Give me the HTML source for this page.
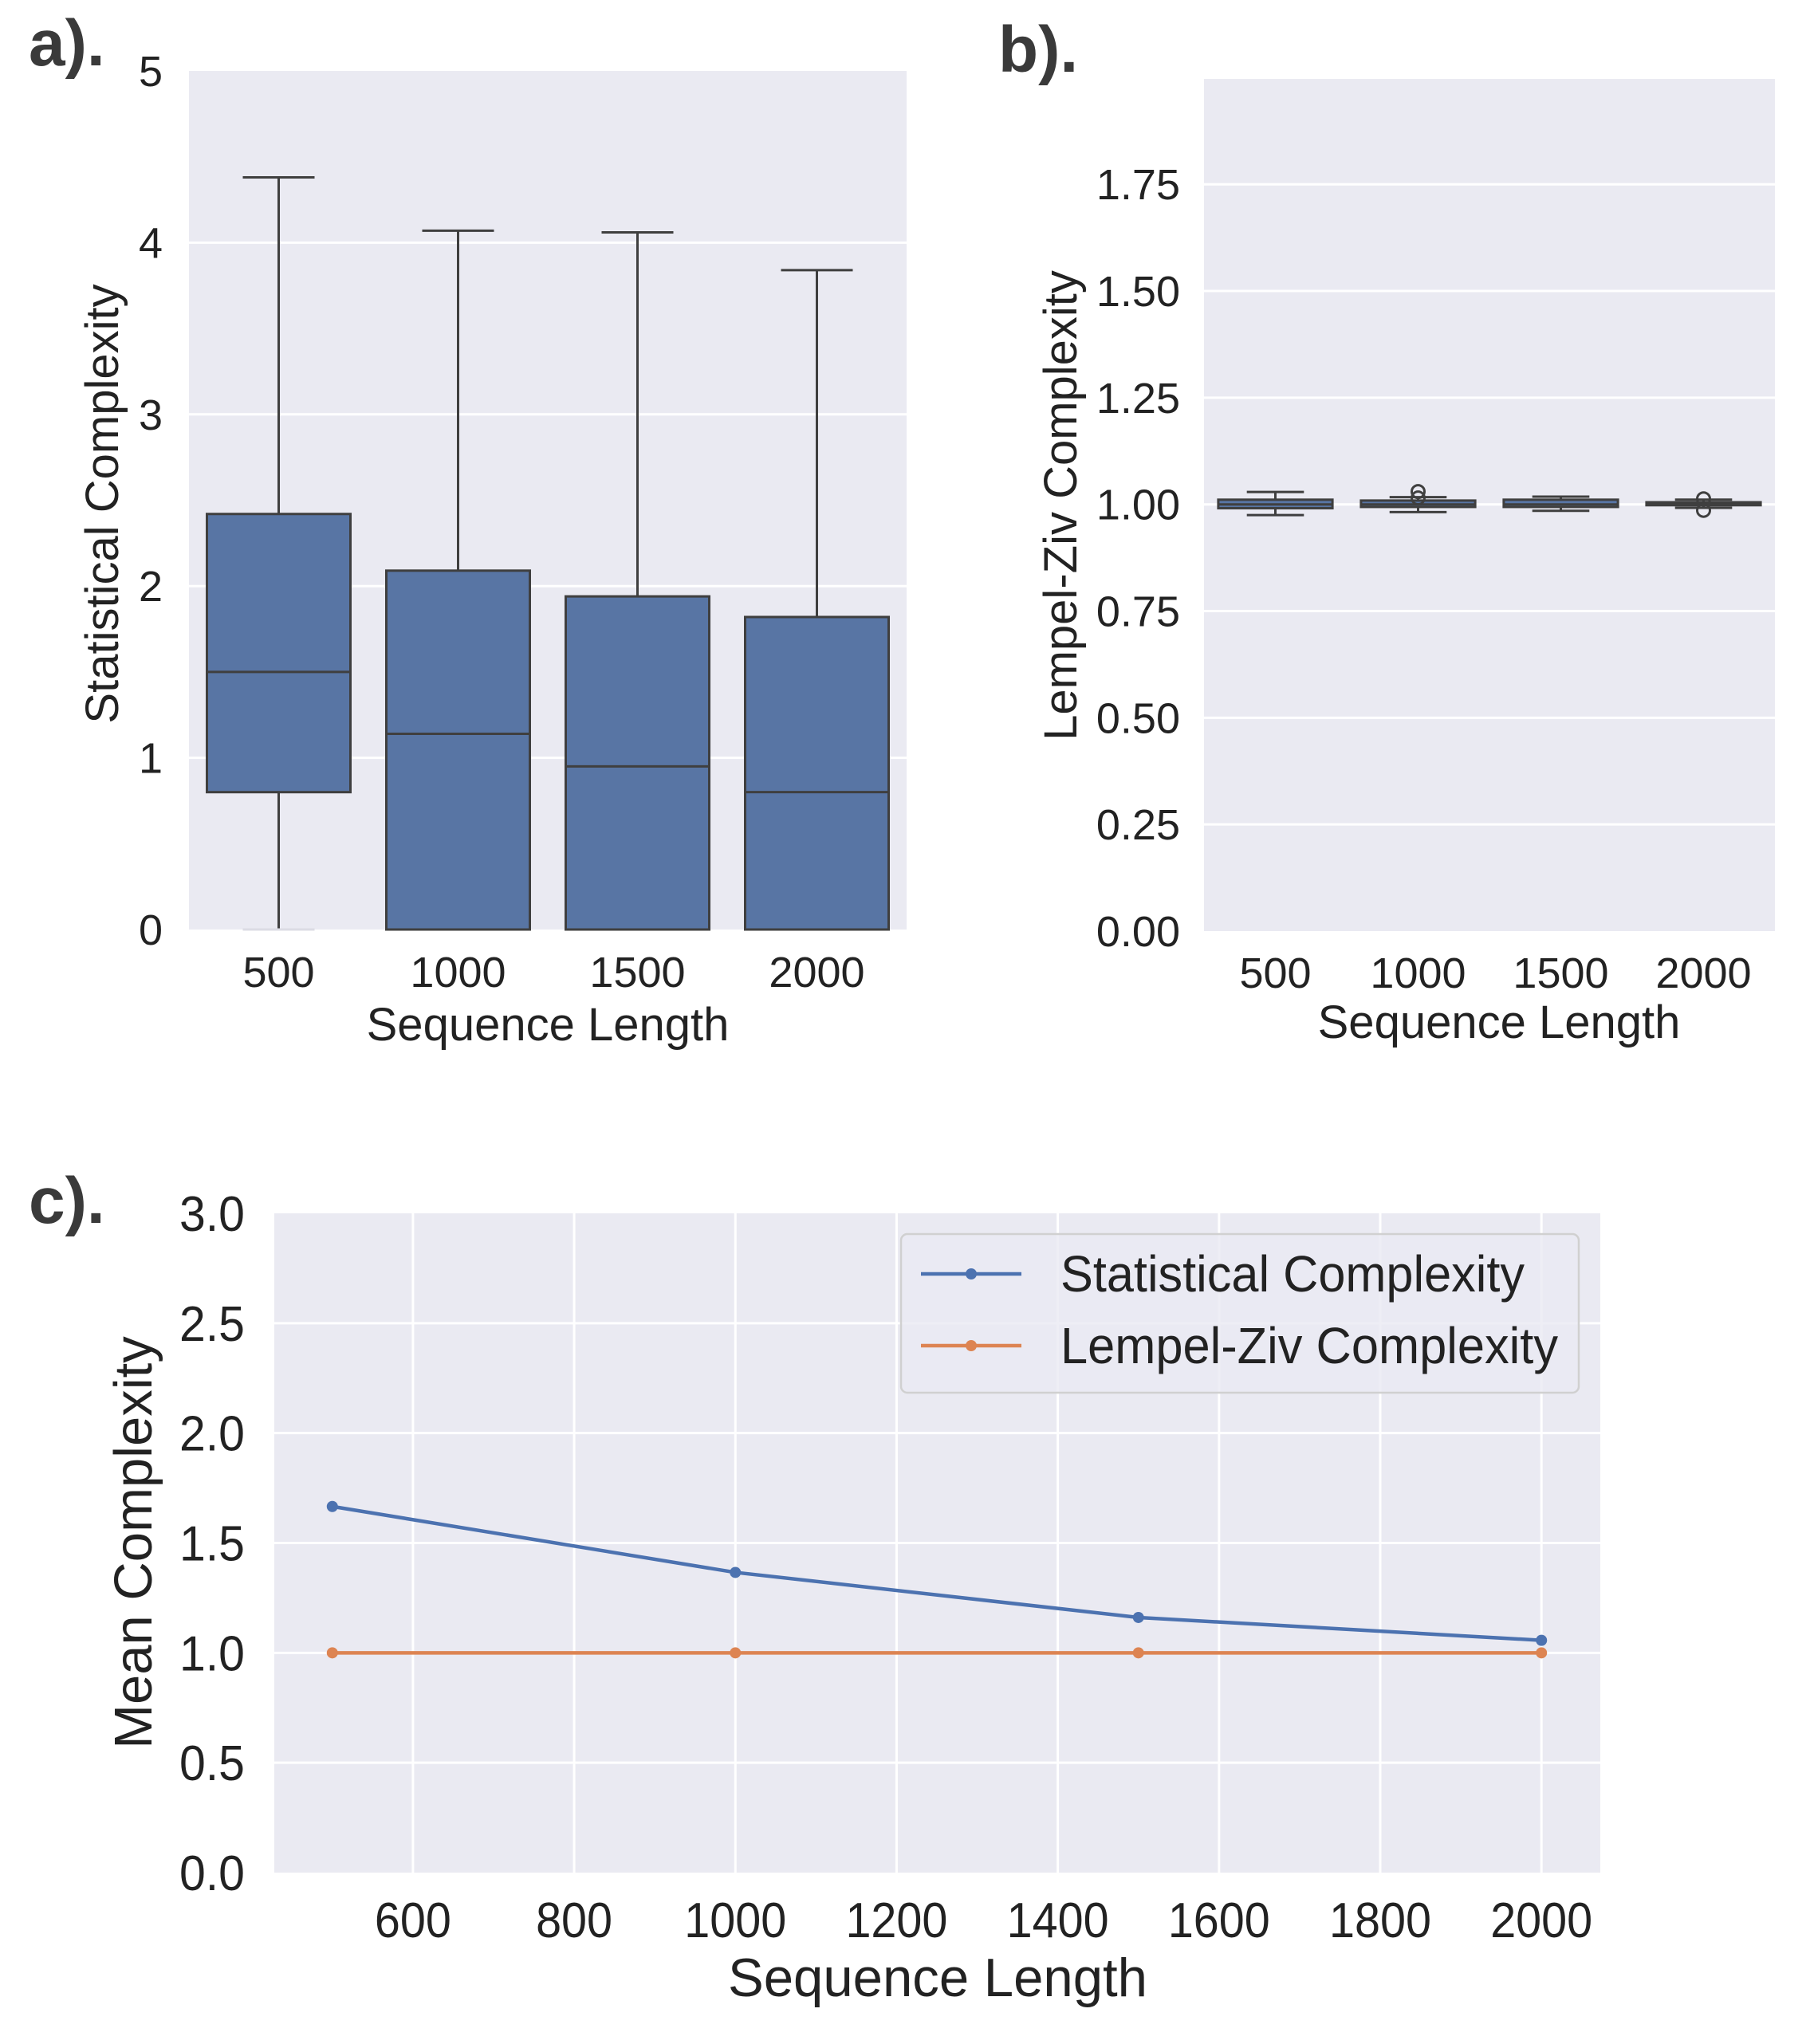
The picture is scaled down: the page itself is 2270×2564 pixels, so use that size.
<!DOCTYPE html>
<html><head><meta charset="utf-8">
<style>
html,body{margin:0;padding:0;background:#fff;}
svg{display:block;font-family:"Liberation Sans",sans-serif;}
</style></head>
<body>
<svg id="fig" width="2270" height="2564" viewBox="0 0 2270 2564" xmlns="http://www.w3.org/2000/svg">
  <text x="36" y="82" font-size="82" font-weight="bold" fill="#3a3a3a">a).</text>
  <text x="1252" y="90" font-size="82" font-weight="bold" fill="#3a3a3a">b).</text>
  <text x="36" y="1534" font-size="82" font-weight="bold" fill="#3a3a3a">c).</text>
  <g id="pa"></g>
  <g id="pb"></g>
  <g id="pc"></g>
</svg>
<script>
// Panel a data
const catsA = ["500","1000","1500","2000"];
const aWhiskLo = [0, 0, 0, 0];
const aQ1 = [0.80, 0, 0, 0];
const aMed = [1.50, 1.14, 0.95, 0.80];
const aQ3 = [2.42, 2.09, 1.94, 1.82];
const aWhiskHi = [4.38, 4.07, 4.06, 3.84];
const aTicks = [0,1,2,3,4,5];
// Panel b data
const catsB = ["500","1000","1500","2000"];
const bWhiskLo = [0.975, 0.982, 0.985, 0.992];
const bQ1 = [0.991, 0.994, 0.994, 0.998];
const bMed = [1.000, 1.000, 1.000, 1.000];
const bQ3 = [1.011, 1.009, 1.011, 1.005];
const bWhiskHi = [1.029, 1.017, 1.018, 1.011];
const bOutliers = [[], [1.030, 1.015], [], [1.013, 0.986]];
const bTicks = ["0.00","0.25","0.50","0.75","1.00","1.25","1.50","1.75"];
// Panel c data
const seqLen = [500, 1000, 1500, 2000];
const statMean = [1.666, 1.366, 1.161, 1.057];
const lzMean = [1.000, 1.000, 1.000, 1.000];
const cXTicks = [600,800,1000,1200,1400,1600,1800,2000];
const cYTicks = ["0.0","0.5","1.0","1.5","2.0","2.5","3.0"];
const seriesNames = ["Statistical Complexity","Lempel-Ziv Complexity"];

const NS="http://www.w3.org/2000/svg";
function mk(parent, tag, attrs, text){
  const e=document.createElementNS(NS,tag);
  for(const k in attrs) e.setAttribute(k, attrs[k]);
  if(text!==undefined) e.textContent=text;
  parent.appendChild(e); return e;
}
const BG="#eaeaf2", EDGE="#3f3f3f", FILL="#5875a4", TXT="#222";

function boxPanel(g, cfg){
  const {L,R,T,B,ymin,ymax,cats,lo,q1,med,q3,hi,outl,ticks,tickX,xTickY,xlabY,xlabX,ylab,ylabX,ylabY,lw} = cfg;
  const ys = v => B - (v-ymin)/(ymax-ymin)*(B-T);
  const step=(R-L)/cats.length;
  const xs = i => L + step*(i+0.5);
  const bg=mk(g,'rect',{x:L,y:T,width:R-L,height:B-T,fill:BG});
  
  
  ticks.forEach(t=>{
    const v=parseFloat(t);
    const y=ys(v);
    if(y>T+2 && y<B-2){
      const gl=mk(g,'line',{x1:L,x2:R,y1:y,y2:y,stroke:'#fff','stroke-width':3});
      
      
    }
    const tl=mk(g,'text',{x:tickX,y:y+19,'text-anchor':'end','font-size':54,fill:TXT},t);
    
    
  });
  cats.forEach((c,i)=>{
    const cx=xs(i), bw=step*0.8, cw=bw/2;
    const bx=mk(g,'g',{});
    
    
    mk(bx,'line',{x1:cx,x2:cx,y1:ys(hi[i]),y2:ys(q3[i]),stroke:EDGE,'stroke-width':lw});
    mk(bx,'line',{x1:cx,x2:cx,y1:ys(q1[i]),y2:ys(lo[i]),stroke:EDGE,'stroke-width':lw});
    mk(bx,'line',{x1:cx-cw/2,x2:cx+cw/2,y1:ys(hi[i]),y2:ys(hi[i]),stroke:EDGE,'stroke-width':lw});
    const loCol = (lo[i]<=ymin) ? '#dcdce4' : EDGE;
    mk(bx,'line',{x1:cx-cw/2,x2:cx+cw/2,y1:ys(lo[i]),y2:ys(lo[i]),stroke:loCol,'stroke-width':lw});
    mk(bx,'rect',{x:cx-bw/2,y:ys(q3[i]),width:bw,height:Math.max(ys(q1[i])-ys(q3[i]),1),fill:FILL,stroke:EDGE,'stroke-width':lw});
    mk(bx,'line',{x1:cx-bw/2,x2:cx+bw/2,y1:ys(med[i]),y2:ys(med[i]),stroke:EDGE,'stroke-width':lw});
    (outl?outl[i]:[]).forEach(o=>{
      const oc=mk(bx,'circle',{cx:cx,cy:ys(o),r:8,fill:'none',stroke:EDGE,'stroke-width':3});
      
      
    });
    const xl=mk(g,'text',{x:cx,y:xTickY,'text-anchor':'middle','font-size':54,fill:TXT},c);
    
    
  });
  const xt=mk(g,'text',{x:xlabX,y:xlabY,'text-anchor':'middle','font-size':58,fill:TXT},'Sequence Length');
  
  
  const yt=mk(g,'text',{x:0,y:0,'text-anchor':'middle','font-size':58,fill:TXT,transform:`translate(${ylabX},${ylabY}) rotate(-90)`},ylab);
  
  
}

boxPanel(document.getElementById('pa'),{L:237,R:1137,T:89,B:1166,ymin:0,ymax:5,cats:catsA,lo:aWhiskLo,q1:aQ1,med:aMed,q3:aQ3,hi:aWhiskHi,outl:null,
  ticks:aTicks.map(String),tickX:204,xTickY:1238,xlabX:687,xlabY:1305,ylab:'Statistical Complexity',ylabX:148,ylabY:632,lw:3});
boxPanel(document.getElementById('pb'),{L:1510,R:2226,T:99,B:1168,ymin:0,ymax:1.997,cats:catsB,lo:bWhiskLo,q1:bQ1,med:bMed,q3:bQ3,hi:bWhiskHi,outl:bOutliers,
  ticks:bTicks,tickX:1480,xTickY:1239,xlabX:1880,xlabY:1302,ylab:'Lempel-Ziv Complexity',ylabX:1350,ylabY:634,lw:3});

// Panel c
(function(){
  const g=document.getElementById('pc');
  const L=344,R=2007,T=1522,B=2349, xmin=428, xmax=2073, ymin=0, ymax=3;
  const xs=v=>L+(v-xmin)/(xmax-xmin)*(R-L);
  const ys=v=>B-(v-ymin)/(ymax-ymin)*(B-T);
  const bg=mk(g,'rect',{x:L,y:T,width:R-L,height:B-T,fill:BG});
  
  
  cXTicks.forEach(t=>{
    const x=xs(t);
    const gl=mk(g,'line',{x1:x,x2:x,y1:T,y2:B,stroke:'#fff','stroke-width':3});
    
    
    const tl=mk(g,'text',{x:x,y:2430,'text-anchor':'middle','font-size':62,fill:TXT,textLength:String(t).length*32,lengthAdjust:'spacingAndGlyphs'},String(t));
    
    
  });
  cYTicks.forEach(t=>{
    const y=ys(parseFloat(t));
    if(y>T+2 && y<B-2){
      const gl=mk(g,'line',{x1:L,x2:R,y1:y,y2:y,stroke:'#fff','stroke-width':3});
      
      
    }
    const tl=mk(g,'text',{x:307,y:y+22,'text-anchor':'end','font-size':62,fill:TXT,textLength:82,lengthAdjust:'spacingAndGlyphs'},t);
    
    
  });
  const cols=["#4c72b0","#dd8452"];
  [statMean,lzMean].forEach((ser,si)=>{
    const sg=mk(g,'g',{});
    
    
    const pts=ser.map((v,i)=>xs(seqLen[i])+','+ys(v)).join(' ');
    mk(sg,'polyline',{points:pts,fill:'none',stroke:cols[si],'stroke-width':4.5});
    ser.forEach((v,i)=>{
      const p=mk(sg,'circle',{cx:xs(seqLen[i]),cy:ys(v),r:7,fill:cols[si]});
      
      
    });
  });
  const lg=mk(g,'g',{});
  
  
  mk(lg,'rect',{x:1130,y:1548,width:850,height:199,rx:8,fill:'#eaeaf2','fill-opacity':0.8,stroke:'#d0d0d0','stroke-width':2.5});
  const rowY=[1598,1688];
  seriesNames.forEach((n,i)=>{
    const le=mk(lg,'g',{});
    
    
    mk(le,'line',{x1:1155,x2:1281,y1:rowY[i],y2:rowY[i],stroke:cols[i],'stroke-width':4.5});
    mk(le,'circle',{cx:1218,cy:rowY[i],r:7,fill:cols[i]});
    mk(le,'text',{x:1330,y:rowY[i]+22,'font-size':64,fill:TXT,textLength:i===0?582:624,lengthAdjust:'spacingAndGlyphs'},n);
  });
  const xt=mk(g,'text',{x:1176,y:2504,'text-anchor':'middle','font-size':68,fill:TXT,textLength:526,lengthAdjust:'spacingAndGlyphs'},'Sequence Length');
  
  
  const yt=mk(g,'text',{x:0,y:0,'text-anchor':'middle','font-size':67,fill:TXT,transform:'translate(190,1935) rotate(-90)'},'Mean Complexity');
  
  
})();
</script>
</body></html>
